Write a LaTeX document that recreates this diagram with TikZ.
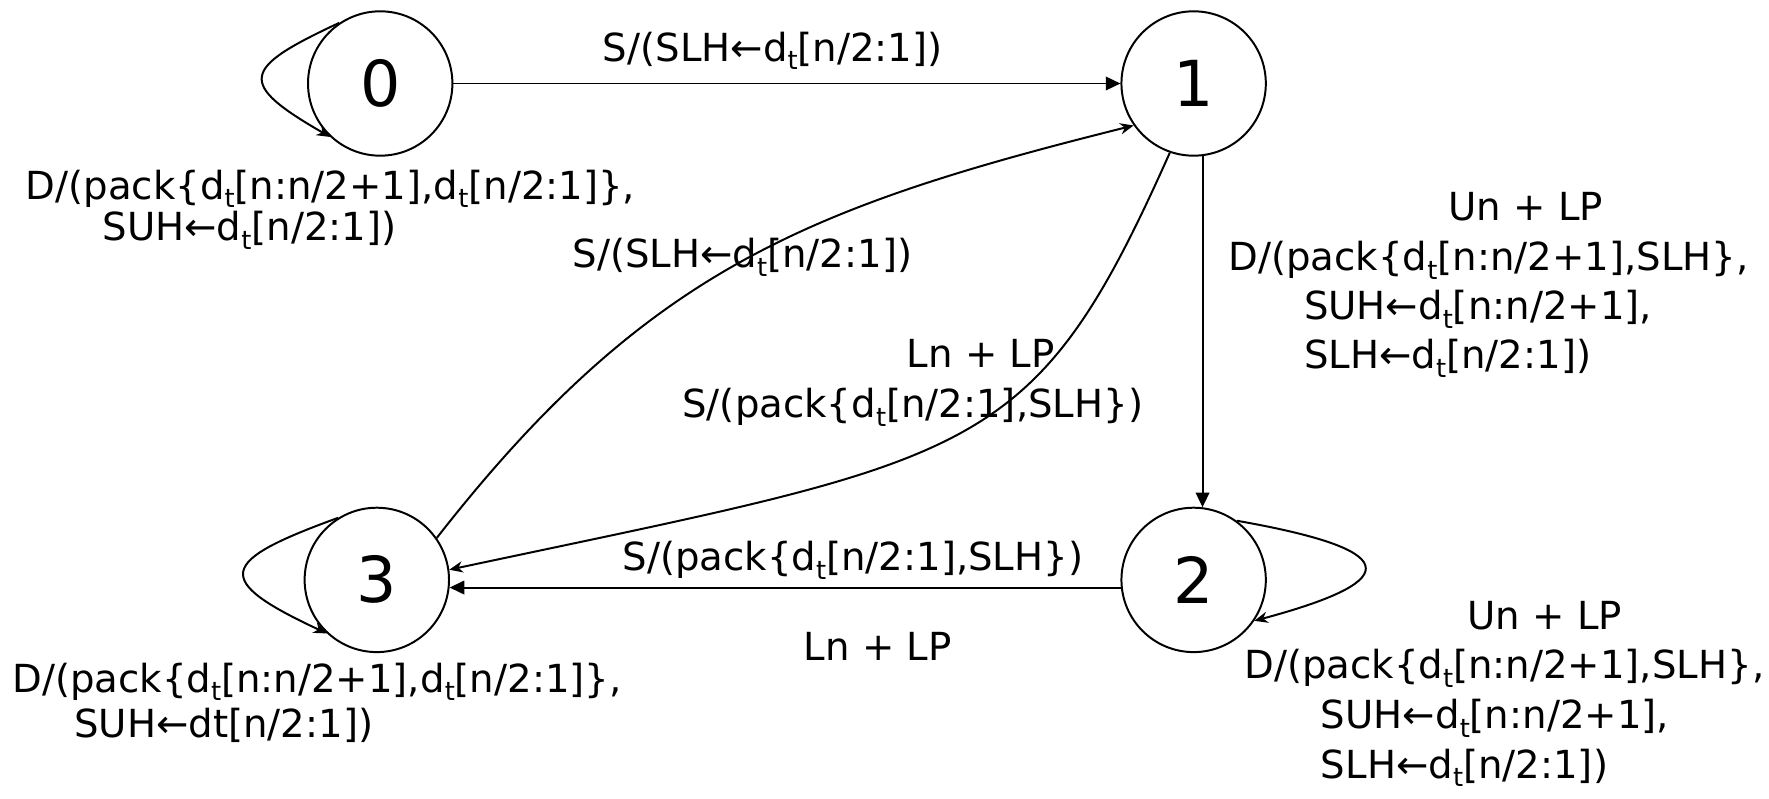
\documentclass[tikz,border=0pt]{standalone}
\usepackage{fontspec}
\setmainfont{DejaVu Sans}
\usetikzlibrary{arrows.meta}
\newcommand{\dT}{d\raisebox{-4.5pt}{\fontsize{13}{13}\selectfont t}}
\newcommand{\lar}{←}
\begin{document}
\begin{tikzpicture}[x=0.02cm,y=0.02cm, line width=1pt,
  state/.style={circle, draw, minimum size=2.56cm, inner sep=0pt, font=\fontsize{32}{36}\selectfont},
  lbl/.style={inner sep=0pt, font=\fontsize{19.5}{22}\selectfont, align=left},
  fillarr/.style={-{Triangle[length=0.26cm,width=0.24cm]}},
  thinarr/.style={-{Stealth[length=0.24cm,width=0.2cm]}}]
\useasboundingbox (0,0) rectangle (1568,-708);

\node[state] (s0) at (337,-74) {0};
\node[state] (s1) at (1058,-74) {1};
\node[state] (s2) at (1058,-514) {2};
\node[state] (s3) at (334,-514) {3};

\draw[fillarr] (s0) -- (s1);
\draw[fillarr] (s1.-83) -- (s2.83);
\draw[fillarr] (s2.186) -- (s3.-6);
\draw[thinarr] (s1.251) .. controls +(246:300) and +(12:480) .. (s3.8);
\draw[thinarr] (s3.35) .. controls +(52:300) and +(194:300) .. (s1.215);
\draw[thinarr] (s0.124) .. controls +(205:96) and +(150:96) .. (s0.227);
\draw[thinarr] (s3.122) .. controls +(200:113) and +(155:113) .. (s3.227);
\draw[thinarr] (s2.54) .. controls +(-10:144) and +(15:144) .. (s2.-34);

\node[lbl] (l01) at (685,-45) {S/(SLH\lar\dT[n/2:1])};
\node[lbl] (l31) at (658,-228) {S/(SLH\lar\dT[n/2:1])};
\node[lbl] (l23) at (756,-497) {S/(pack\{\dT[n/2:1],SLH\})};
\node[lbl] (l23b) at (778,-573) {Ln + LP};
\node[lbl, anchor=north west, font=\fontsize{19.5}{21}\selectfont] (l00) at (22,-149.5)
  {D/(pack\{\dT[n:n/2+1],\dT[n/2:1]\},\\\hspace*{1.36cm}SUH\lar\dT[n/2:1])};
\node[lbl, anchor=north west, font=\fontsize{19.5}{22.8}\selectfont] (l33) at (10,-586.5)
  {D/(pack\{\dT[n:n/2+1],\dT[n/2:1]\},\\\hspace*{1.1cm}SUH\lar dt[n/2:1])};
\node[lbl, anchor=north west, font=\fontsize{19.5}{24.8}\selectfont] (l12) at (1088,-170)
  {\hspace*{3.9cm}Un + LP\\D/(pack\{\dT[n:n/2+1],SLH\},\\\hspace*{1.34cm}SUH\lar\dT[n:n/2+1],\\\hspace*{1.34cm}SLH\lar\dT[n/2:1])};
\node[lbl, anchor=north west, font=\fontsize{19.5}{25}\selectfont] (l22) at (1102,-532)
  {\hspace*{3.96cm}Un + LP\\D/(pack\{\dT[n:n/2+1],SLH\},\\\hspace*{1.36cm}SUH\lar\dT[n:n/2+1],\\\hspace*{1.36cm}SLH\lar\dT[n/2:1])};
\node[lbl, anchor=north west, font=\fontsize{19.5}{25}\selectfont] (l13) at (604,-300)
  {\hspace*{3.98cm}Ln + LP\\S/(pack\{\dT[n/2:1],SLH\})};
\end{tikzpicture}
\end{document}
